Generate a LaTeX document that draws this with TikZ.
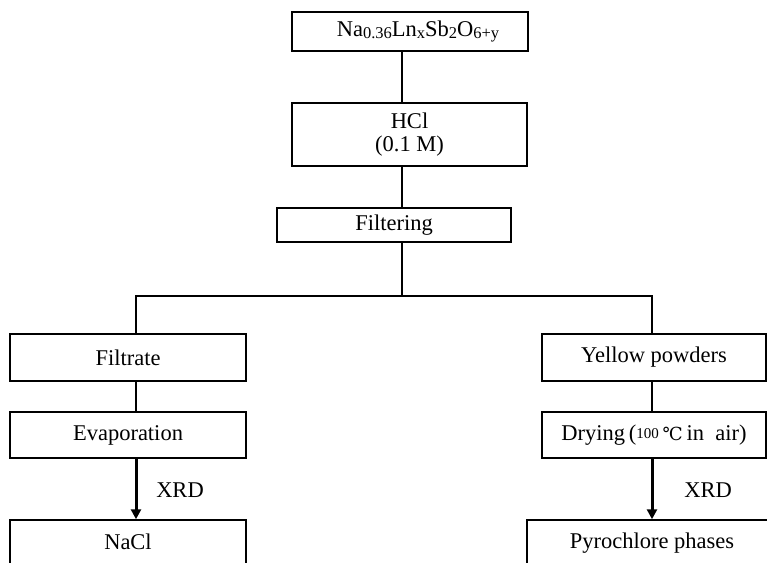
\documentclass[tikz,border=0pt]{standalone}
\usepackage{fontspec}
\setmainfont{Liberation Serif}
\newfontfamily\symfont{DejaVu Serif}
\usetikzlibrary{arrows.meta}
\begin{document}
\begin{tikzpicture}[x=1pt,y=-1pt,
  box/.style={draw,line width=1.5pt,inner sep=0pt,font=\fontsize{22.5}{25}\selectfont},
  conn/.style={line width=1.5pt},
  thickarrow/.style={line width=3pt,-{Triangle[length=10pt,width=10pt]}},
  lbl/.style={font=\fontsize{22.5}{25}\selectfont}]
\useasboundingbox (0,0) rectangle (767,562);
\clip (0,0) rectangle (767,562);
\node[box,minimum width=236pt,minimum height=39pt] (top) at (410,31.5)
  {\hspace{16pt}Na\raisebox{-2pt}{\fontsize{16.5}{16}\selectfont 0.36}Ln\raisebox{-2pt}{\fontsize{16.5}{16}\selectfont x}Sb\raisebox{-2pt}{\fontsize{16.5}{16}\selectfont 2}O\raisebox{-2pt}{\fontsize{16.5}{16}\selectfont 6+y}};
\node[box,minimum width=235pt,minimum height=63pt,align=center] (hcl) at (409.5,134.5) {HCl\\[-2pt](0.1 M)};
\node[box,minimum width=234pt,minimum height=34pt] (filt) at (394,225) {Filtering};
\node[box,minimum width=236pt,minimum height=47pt] (filtrate) at (128,357.5) {\raisebox{-3pt}{Filtrate}};
\node[box,minimum width=236pt,minimum height=46pt] (evap) at (128,435) {Evaporation};
\node[box,minimum width=236pt,minimum height=60pt] (nacl) at (128,550) {};
\node[lbl] (nacltxt) at (128,542) {NaCl};
\node[box,minimum width=224pt,minimum height=47pt] (yellow) at (654,357.5) {\raisebox{-3pt}{Yellow powders}};
\node[box,minimum width=224pt,minimum height=46pt] (dry) at (654,435)
  {Drying\,(\raisebox{2pt}{\fontsize{15}{15}\selectfont 100}\,{\symfont\fontsize{18}{18}\selectfont ℃}\,in~ air)};
\node[box,minimum width=253pt,minimum height=60pt] (pyro) at (653.5,550) {};
\node[lbl] (pyrotxt) at (652,543) {Pyrochlore phases};
\coordinate (trunk) at (402,0);
\coordinate (junction) at (402,296);
\coordinate (L) at (136,296);
\coordinate (R) at (652,296);
\draw[conn] (top.south -| trunk) -- (hcl.north -| trunk);
\draw[conn] (hcl.south -| trunk) -- (filt.north -| trunk);
\draw[conn] (filt.south -| junction) -- (junction);
\draw[conn] (filtrate.north -| L) -- (L) -- (R) -- (yellow.north -| R);
\draw[conn] (filtrate.south -| L) -- (evap.north -| L);
\draw[conn] (yellow.south -| R) -- (dry.north -| R);
\draw[thickarrow] (evap.south -| L) -- (nacl.north -| L);
\draw[thickarrow] (dry.south -| R) -- (pyro.north -| R);
\node[lbl] (xrd1) at (180,490) {XRD};
\node[lbl] (xrd2) at (708,490) {XRD};
\end{tikzpicture}
\end{document}
